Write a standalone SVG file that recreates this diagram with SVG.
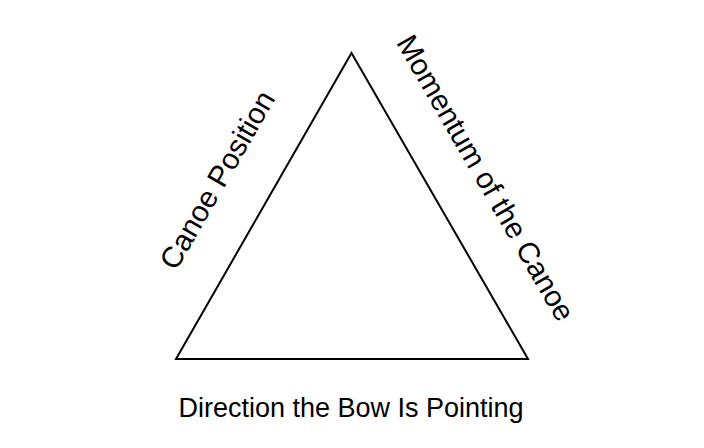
<svg xmlns="http://www.w3.org/2000/svg" width="704" height="448" viewBox="0 0 704 448">
<style>
.lbl{font-family:"Liberation Sans",Arial,sans-serif;fill:#000;text-anchor:middle}
.edge{fill:none;stroke:#000;stroke-width:2;stroke-linejoin:miter}
</style>
<rect width="704" height="448" fill="#fff"/>
<g id="connectors">
<polygon id="triangle" class="edge" points="351.5,53 176,359 528,359"/>
</g>
<g id="node-canoe-position">
<text class="lbl" font-size="29.5" transform="translate(226,185) rotate(-60)">Canoe Position</text>
</g>
<g id="node-momentum">
<text class="lbl" font-size="29.5" transform="translate(477,183) rotate(60)">Momentum of the Canoe</text>
</g>
<g id="node-direction">
<text class="lbl" font-size="27" x="351" y="417">Direction the Bow Is Pointing</text>
</g>
</svg>
